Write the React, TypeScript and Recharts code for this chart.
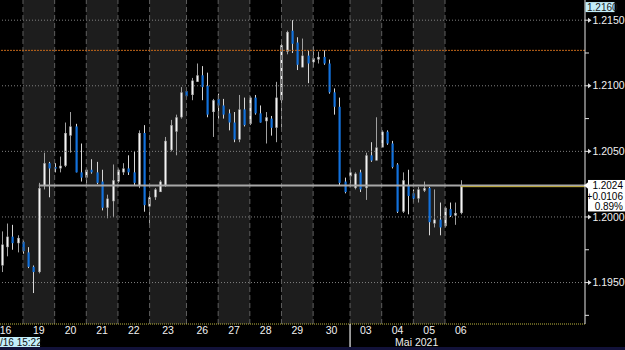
import React from 'react';
import { ComposedChart, Bar, XAxis, YAxis, ReferenceLine, ReferenceArea } from 'recharts';

// EUR/USD 4-hour candles, 16 Apr - 06 May 2021
const opens = [1.1963,1.1977,1.1985,1.1980,1.1981,1.1973,1.1962,1.1958,1.2024,1.2041,1.2038,1.2037,1.2039,1.2062,1.2069,1.2034,1.2030,1.2036,1.2034,1.2027,1.2007,1.2012,1.2027,1.2034,1.2037,1.2034,1.2024,1.2064,1.2008,1.2015,1.2019,1.2024,1.2051,1.2065,1.2076,1.2096,1.2093,1.2103,1.2108,1.2100,1.2080,1.2090,1.2085,1.2079,1.2072,1.2059,1.2082,1.2071,1.2091,1.2079,1.2073,1.2075,1.2068,1.2089,1.2126,1.2142,1.2133,1.2114,1.2123,1.2118,1.2120,1.2122,1.2117,1.2095,1.2084,1.2027,1.2031,1.2022,1.2034,1.2022,1.2047,1.2043,1.2053,1.2065,1.2056,1.2040,1.2004,1.2024,1.2018,1.2014,1.2020,1.2022,1.1995,1.1998,1.1993,1.2006,1.2001,1.2003];
const highs = [1.1989,1.1995,1.1994,1.1986,1.1982,1.1977,1.1963,1.2026,1.2049,1.2042,1.2041,1.2046,1.2072,1.2080,1.2071,1.2056,1.2037,1.2044,1.2042,1.2036,1.2017,1.2040,1.2037,1.2041,1.2047,1.2050,1.2066,1.2070,1.2018,1.2022,1.2028,1.2061,1.2074,1.2078,1.2099,1.2098,1.2106,1.2117,1.2115,1.2110,1.2090,1.2094,1.2090,1.2082,1.2080,1.2093,1.2091,1.2092,1.2093,1.2085,1.2080,1.2077,1.2103,1.2135,1.2142,1.2150,1.2137,1.2136,1.2127,1.2130,1.2126,1.2127,1.2120,1.2098,1.2091,1.2030,1.2037,1.2034,1.2036,1.2049,1.2057,1.2076,1.2066,1.2066,1.2058,1.2041,1.2034,1.2036,1.2021,1.2023,1.2027,1.2023,1.2021,1.2011,1.2008,1.2011,1.2011,1.2028];
const lows = [1.1958,1.1970,1.1975,1.1973,1.1972,1.1961,1.1942,1.1957,1.2021,1.2015,1.2034,1.2034,1.2038,1.2049,1.2034,1.2027,1.2024,1.2033,1.2025,1.2005,1.1999,1.2000,1.2026,1.2032,1.2032,1.2024,1.2022,1.2004,1.1994,1.2013,1.2019,1.2023,1.2050,1.2047,1.2075,1.2091,1.2089,1.2103,1.2089,1.2076,1.2061,1.2075,1.2075,1.2066,1.2057,1.2057,1.2069,1.2070,1.2078,1.2072,1.2056,1.2062,1.2057,1.2066,1.2124,1.2125,1.2112,1.2114,1.2102,1.2114,1.2117,1.2116,1.2094,1.2078,1.2024,1.2018,1.2023,1.2021,1.2019,1.2013,1.2042,1.2043,1.2053,1.2055,1.2037,1.2003,1.2003,1.2002,1.2011,1.2011,1.2019,1.1986,1.1992,1.1986,1.1992,1.2000,1.1994,1.2002];
const closes = [1.1979,1.1985,1.1980,1.1984,1.1974,1.1962,1.1958,1.2022,1.2041,1.2037,1.2037,1.2039,1.2064,1.2069,1.2034,1.2030,1.2036,1.2034,1.2026,1.2007,1.2014,1.2028,1.2036,1.2037,1.2034,1.2026,1.2064,1.2009,1.2015,1.2021,1.2027,1.2058,1.2070,1.2076,1.2095,1.2092,1.2104,1.2108,1.2099,1.2078,1.2089,1.2085,1.2078,1.2072,1.2059,1.2082,1.2070,1.2091,1.2079,1.2072,1.2076,1.2068,1.2091,1.2131,1.2141,1.2132,1.2116,1.2123,1.2117,1.2121,1.2122,1.2117,1.2095,1.2084,1.2026,1.2019,1.2034,1.2033,1.2021,1.2047,1.2043,1.2053,1.2065,1.2056,1.2038,1.2004,1.2028,1.2016,1.2014,1.2021,1.2022,1.1996,1.1998,1.1992,1.2007,1.2001,1.2003,1.2024];

const dayLabels = ['16','19','20','21','22','23','26','27','28','29','30','03','04','05','06'];
const dayTickSlots = [0.7, 7, 13, 19, 25, 31.5, 38, 44, 50, 56, 62.5, 69, 75, 81, 87];
const monthSeparatorSlot = 66;
const monthLabel = 'Mai 2021';
const sessionBands = [[4,10],[16,22],[28,35],[41,47],[53,59],[66,72],[78,84]];

const majorTicks = [1.1950, 1.2000, 1.2050, 1.2100, 1.2150];
const minorTicks = [1.1925, 1.1975, 1.2075, 1.2125];
const topTick = 1.2160;
const lastPrice = 1.2024;
const lastChange = '+0.0106';
const lastPct = '0.89%';
const alertLevel = 1.2127;
const lineStartSlot = 7;
const lastSlot = 87;
const cursorLabel = '/16 15:22';

const X_DOMAIN = [-0.36, 110.54];
const Y_DOMAIN = [1.19184, 1.21654];

const data = opens.map((o, i) => ({ slot: i, open: o, high: highs[i], low: lows[i], close: closes[i] }));

const FONT = "'Liberation Sans Narrow', 'Arial Narrow', 'Liberation Sans', Arial, sans-serif";

const Candle = (props: any) => {
  const { x, y, width, height, payload } = props;
  if (x == null || y == null) return null;
  const { open, close, high, low } = payload;
  const top = Math.min(y, y + height);
  const h = Math.abs(height);
  const ratio = high === low ? 0 : h / (high - low);
  const cx = Math.round(x + width / 2);
  const yO = top + (high - open) * ratio;
  const yC = top + (high - close) * ratio;
  const up = close >= open;
  const bTop = Math.min(yO, yC);
  const bH = Math.max(1.5, Math.abs(yC - yO));
  if (up) {
    return (
      <g>
        <line x1={cx + 0.5} x2={cx + 0.5} y1={top} y2={top + h} stroke="#a0a0a0" strokeWidth={1} />
        <rect x={cx - 1} y={bTop} width={3} height={bH} fill="#8e8e8e" />
        <rect x={cx} y={bTop + 0.5} width={1} height={Math.max(0.5, bH - 1)} fill="#f4f4f4" />
      </g>
    );
  }
  return (
    <g>
      <line x1={cx + 0.5} x2={cx + 0.5} y1={top} y2={top + h} stroke="#d6d6d6" strokeWidth={1} />
      <rect x={cx - 0.5} y={bTop} width={2.2} height={bH} fill="#1271dc" />
    </g>
  );
};

const DayTick = (props: any) => {
  const { x, y, payload } = props;
  const v = payload.value;
  if (v === monthSeparatorSlot) {
    return (
      <g>
        <line x1={x} x2={x} y1={y} y2={y + 26} stroke="#f0f0f0" strokeWidth={1.2} />
        <text x={x + 45} y={y + 21.5} fill="#eeeeee" fontSize={10.5} fontFamily={FONT}>{monthLabel}</text>
      </g>
    );
  }
  const idx = dayTickSlots.indexOf(v);
  const label = idx >= 0 ? dayLabels[idx] : '';
  return (
    <g>
      {idx === 0 && (
        <g>
          <rect x={0} y={y + 13} width={40} height={11} fill="#c4eefa" />
          <text x={0} y={y + 22} fill="#111" fontSize={10} fontFamily={FONT}>{cursorLabel}</text>
        </g>
      )}
      <text x={x} y={y + 10} textAnchor="middle" fill="#f2f2f2" fontSize={10.5} fontFamily={FONT}>{label}</text>
    </g>
  );
};

const PriceTick = (props: any) => {
  const { x, y, payload } = props;
  const v = payload.value;
  if (v === topTick) {
    return (
      <g>
        <rect x={x + 0.5} y={y - 5} width={29} height={10} fill="#c4eefa" />
        <text x={x + 2} y={y + 3.7} fill="#1a1a1a" fontSize={10} fontFamily={FONT}>{v.toFixed(4)}</text>
      </g>
    );
  }
  if (v === lastPrice) {
    return (
      <g>
        <path d={`M${x - 1},${y} L${x + 4},${y - 4} L${x + 4},${y + 4} Z`} fill="#ffffff" />
        <rect x={x + 3} y={y - 5.5} width={38} height={31.5} fill="#ffffff" />
        <text x={623} y={y + 3.8} textAnchor="end" fill="#000" fontSize={10} fontFamily={FONT}>{v.toFixed(4)}</text>
        <text x={623} y={y + 14.3} textAnchor="end" fill="#000" fontSize={10} fontFamily={FONT}>{lastChange}</text>
        <text x={623} y={y + 24.6} textAnchor="end" fill="#000" fontSize={10} fontFamily={FONT}>{lastPct}</text>
      </g>
    );
  }
  if (minorTicks.includes(v)) {
    return <line x1={x} x2={x + 4} y1={y} y2={y} stroke="#e0e0e0" strokeWidth={1} />;
  }
  return (
    <g>
      <line x1={x} x2={x + 5} y1={y} y2={y} stroke="#e0e0e0" strokeWidth={1} />
      <path d={`M${x + 3},${y - 2.5} L${x + 6.5},${y} L${x + 3},${y + 2.5} Z`} fill="#e0e0e0" />
      <text x={x + 7.5} y={y + 3.7} fill="#f0f0f0" fontSize={10.5} fontFamily={FONT}>{v.toFixed(4)}</text>
    </g>
  );
};

const yTicks = [...minorTicks, ...majorTicks, topTick, lastPrice].sort((a, b) => a - b);
const xTicks = [...dayTickSlots, monthSeparatorSlot].sort((a, b) => a - b);

export default function App() {
  const boundaries = sessionBands.flat();
  return (
    <div style={{ position: 'absolute', left: 0, top: 0, width: 625, height: 350, background: '#000', overflow: 'hidden' }}>
      <ComposedChart width={625} height={350} data={data} margin={{ top: 0, right: 0, bottom: 0, left: 0 }}>
        <XAxis dataKey="slot" type="number" domain={X_DOMAIN} allowDataOverflow ticks={xTicks} interval={0}
          tick={<DayTick />} tickLine={false} tickSize={0} tickMargin={0} height={26}
          axisLine={{ stroke: '#bdb640', strokeDasharray: '1 1' }} />
        <YAxis orientation="right" type="number" domain={Y_DOMAIN} allowDataOverflow ticks={yTicks} interval={0}
          tick={<PriceTick />} tickLine={false} tickSize={0} tickMargin={0} width={40}
          axisLine={{ stroke: '#e8e8e8' }} />
        {sessionBands.map(([a, b], i) => (
          <ReferenceArea key={'band' + i} x1={a} x2={b} fill="#1d1d1d" fillOpacity={1} stroke="none" ifOverflow="hidden" />
        ))}
        {majorTicks.map((v) => (
          <ReferenceLine key={'g' + v} y={v} stroke="#808080" strokeDasharray="1 2" />
        ))}
        {boundaries.map((b, i) => (
          <ReferenceLine key={'b' + i} x={b} stroke="#5e5e5e" strokeDasharray="5 3" />
        ))}
        <ReferenceLine y={alertLevel} stroke="#c2661a" strokeDasharray="2 1" />
        <Bar dataKey={(d: any) => [d.low, d.high]} barSize={3} shape={<Candle />} isAnimationActive={false} />
        <ReferenceLine segment={[{ x: lineStartSlot, y: lastPrice }, { x: X_DOMAIN[1], y: lastPrice }]} stroke="#a8a8a8" strokeWidth={2} />
        <ReferenceLine segment={[{ x: lastSlot, y: lastPrice - 0.00009 }, { x: X_DOMAIN[1], y: lastPrice - 0.00009 }]} stroke="#c9b23c" strokeWidth={1} />
      </ComposedChart>
      <div style={{ position: 'absolute', left: 0, top: 347, width: 625, height: 3, background: '#12123a' }} />
    </div>
  );
}
